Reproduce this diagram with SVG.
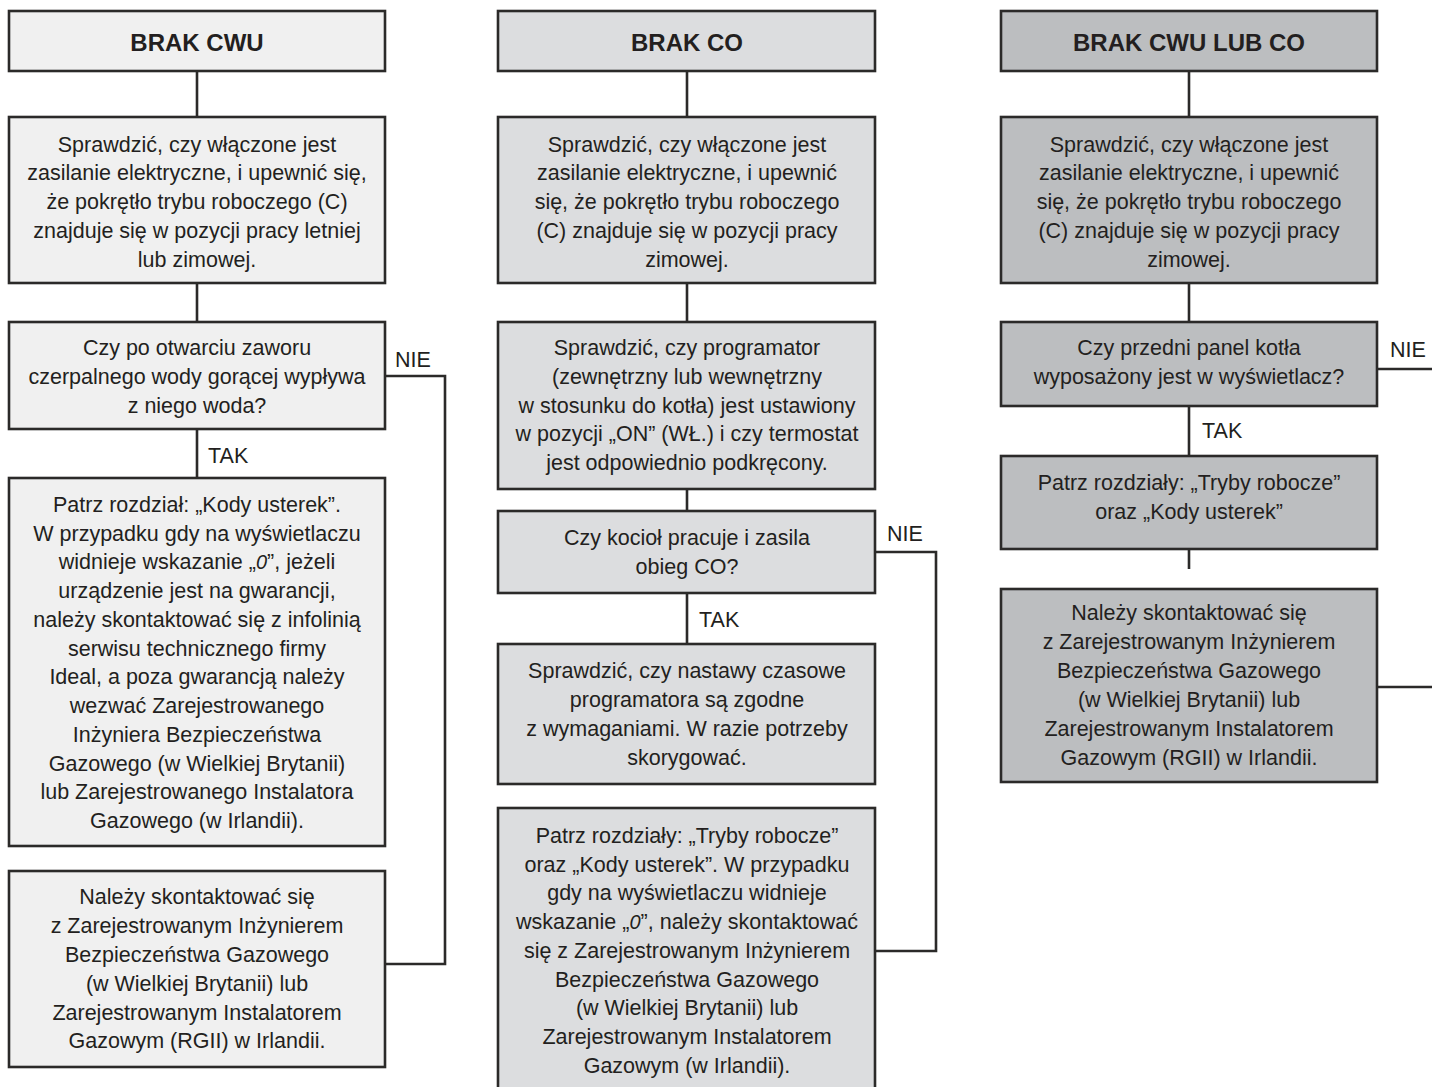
<svg xmlns="http://www.w3.org/2000/svg" width="1432" height="1087" viewBox="0 0 1432 1087">
<style>
.b{stroke:#2b2a29;stroke-width:2.6}
.c1{fill:#f0f0f0}
.c2{fill:#dcdddf}
.c3{fill:#bcbec0}
text{font-family:"Liberation Sans",Arial,sans-serif;font-size:21.5px;fill:#231f20}
.t{text-anchor:middle}
.h{font-weight:bold;font-size:24px}
.seg{font-style:italic;font-family:"Liberation Sans",Arial,sans-serif;font-weight:normal;font-size:20px}
.ln{fill:none;stroke:#2b2a29;stroke-width:2.6}
</style>
<rect width="1432" height="1087" fill="#ffffff"/>
<g id="connectors">
<path class="ln" d="M197 71V117M197 283V322M197 429V478"/>
<path class="ln" d="M385 376H445V964H385"/>
<path class="ln" d="M687 71V117M687 283V322M687 489V511M687 593V644"/>
<path class="ln" d="M875 552H936V951H875"/>
<path class="ln" d="M1189 71V117M1189 283V322M1189 406V456M1189 549V569"/>
<path class="ln" d="M1377 369H1434M1377 687H1434"/>
<text x="208" y="463">TAK</text>
<text x="395" y="367">NIE</text>
<text x="699" y="627">TAK</text>
<text x="887" y="541">NIE</text>
<text x="1202" y="438">TAK</text>
<text x="1390" y="357">NIE</text>
</g>
<g id="n1a"><rect class="b c1" x="9" y="11" width="376" height="60"/><text class="t h" x="197" y="51">BRAK CWU</text></g>
<g id="n1b"><rect class="b c1" x="9" y="117" width="376" height="166"/>
<text class="t" x="197" y="151.5">Sprawdzić, czy włączone jest</text>
<text class="t" x="197" y="180.3">zasilanie elektryczne, i upewnić się,</text>
<text class="t" x="197" y="209.1">że pokrętło trybu roboczego (C)</text>
<text class="t" x="197" y="237.9">znajduje się w pozycji pracy letniej</text>
<text class="t" x="197" y="266.7">lub zimowej.</text></g>
<g id="n1c"><rect class="b c1" x="9" y="322" width="376" height="107"/>
<text class="t" x="197" y="355">Czy po otwarciu zaworu</text>
<text class="t" x="197" y="384">czerpalnego wody gorącej wypływa</text>
<text class="t" x="197" y="412.7">z niego woda?</text></g>
<g id="n1d"><rect class="b c1" x="9" y="478" width="376" height="368"/>
<text class="t" x="197" y="511.7">Patrz rozdział: „Kody usterek”.</text>
<text class="t" x="197" y="540.5">W przypadku gdy na wyświetlaczu</text>
<text class="t" x="197" y="569.2">widnieje wskazanie „<tspan class="seg">0</tspan>”, jeżeli</text>
<text class="t" x="197" y="598">urządzenie jest na gwarancji,</text>
<text class="t" x="197" y="626.7">należy skontaktować się z infolinią</text>
<text class="t" x="197" y="655.5">serwisu technicznego firmy</text>
<text class="t" x="197" y="684.2">Ideal, a poza gwarancją należy</text>
<text class="t" x="197" y="713">wezwać Zarejestrowanego</text>
<text class="t" x="197" y="741.7">Inżyniera Bezpieczeństwa</text>
<text class="t" x="197" y="770.5">Gazowego (w Wielkiej Brytanii)</text>
<text class="t" x="197" y="799.2">lub Zarejestrowanego Instalatora</text>
<text class="t" x="197" y="828">Gazowego (w Irlandii).</text></g>
<g id="n1e"><rect class="b c1" x="9" y="871" width="376" height="196"/>
<text class="t" x="197" y="904">Należy skontaktować się</text>
<text class="t" x="197" y="932.9">z Zarejestrowanym Inżynierem</text>
<text class="t" x="197" y="961.8">Bezpieczeństwa Gazowego</text>
<text class="t" x="197" y="990.6">(w Wielkiej Brytanii) lub</text>
<text class="t" x="197" y="1019.5">Zarejestrowanym Instalatorem</text>
<text class="t" x="197" y="1048.3">Gazowym (RGII) w Irlandii.</text></g>
<g id="n2a"><rect class="b c2" x="498" y="11" width="377" height="60"/><text class="t h" x="687" y="51">BRAK CO</text></g>
<g id="n2b"><rect class="b c2" x="498" y="117" width="377" height="166"/>
<text class="t" x="687" y="151.5">Sprawdzić, czy włączone jest</text>
<text class="t" x="687" y="180.3">zasilanie elektryczne, i upewnić</text>
<text class="t" x="687" y="209.1">się, że pokrętło trybu roboczego</text>
<text class="t" x="687" y="237.9">(C) znajduje się w pozycji pracy</text>
<text class="t" x="687" y="266.7">zimowej.</text></g>
<g id="n2c"><rect class="b c2" x="498" y="322" width="377" height="167"/>
<text class="t" x="687" y="355">Sprawdzić, czy programator</text>
<text class="t" x="687" y="383.8">(zewnętrzny lub wewnętrzny</text>
<text class="t" x="687" y="412.6">w stosunku do kotła) jest ustawiony</text>
<text class="t" x="687" y="441.4">w pozycji „ON” (WŁ.) i czy termostat</text>
<text class="t" x="687" y="470.2">jest odpowiednio podkręcony.</text></g>
<g id="n2d"><rect class="b c2" x="498" y="511" width="377" height="82"/>
<text class="t" x="687" y="545">Czy kocioł pracuje i zasila</text>
<text class="t" x="687" y="573.5">obieg CO?</text></g>
<g id="n2e"><rect class="b c2" x="498" y="644" width="377" height="140"/>
<text class="t" x="687" y="678.3">Sprawdzić, czy nastawy czasowe</text>
<text class="t" x="687" y="707.2">programatora są zgodne</text>
<text class="t" x="687" y="736">z wymaganiami. W razie potrzeby</text>
<text class="t" x="687" y="765">skorygować.</text></g>
<g id="n2f"><rect class="b c2" x="498" y="808" width="377" height="290"/>
<text class="t" x="687" y="842.7">Patrz rozdziały: „Tryby robocze”</text>
<text class="t" x="687" y="871.5">oraz „Kody usterek”. W przypadku</text>
<text class="t" x="687" y="900.2">gdy na wyświetlaczu widnieje</text>
<text class="t" x="687" y="929">wskazanie „<tspan class="seg">0</tspan>”, należy skontaktować</text>
<text class="t" x="687" y="957.7">się z Zarejestrowanym Inżynierem</text>
<text class="t" x="687" y="986.5">Bezpieczeństwa Gazowego</text>
<text class="t" x="687" y="1015.2">(w Wielkiej Brytanii) lub</text>
<text class="t" x="687" y="1044">Zarejestrowanym Instalatorem</text>
<text class="t" x="687" y="1072.7">Gazowym (w Irlandii).</text></g>
<g id="n3a"><rect class="b c3" x="1001" y="11" width="376" height="60"/><text class="t h" x="1189" y="51">BRAK CWU LUB CO</text></g>
<g id="n3b"><rect class="b c3" x="1001" y="117" width="376" height="166"/>
<text class="t" x="1189" y="151.5">Sprawdzić, czy włączone jest</text>
<text class="t" x="1189" y="180.3">zasilanie elektryczne, i upewnić</text>
<text class="t" x="1189" y="209.1">się, że pokrętło trybu roboczego</text>
<text class="t" x="1189" y="237.9">(C) znajduje się w pozycji pracy</text>
<text class="t" x="1189" y="266.7">zimowej.</text></g>
<g id="n3c"><rect class="b c3" x="1001" y="322" width="376" height="84"/>
<text class="t" x="1189" y="355">Czy przedni panel kotła</text>
<text class="t" x="1189" y="383.5">wyposażony jest w wyświetlacz?</text></g>
<g id="n3d"><rect class="b c3" x="1001" y="456" width="376" height="93"/>
<text class="t" x="1189" y="490">Patrz rozdziały: „Tryby robocze”</text>
<text class="t" x="1189" y="519">oraz „Kody usterek”</text></g>
<g id="n3e"><rect class="b c3" x="1001" y="589" width="376" height="193"/>
<text class="t" x="1189" y="620">Należy skontaktować się</text>
<text class="t" x="1189" y="649">z Zarejestrowanym Inżynierem</text>
<text class="t" x="1189" y="678">Bezpieczeństwa Gazowego</text>
<text class="t" x="1189" y="707">(w Wielkiej Brytanii) lub</text>
<text class="t" x="1189" y="736">Zarejestrowanym Instalatorem</text>
<text class="t" x="1189" y="765">Gazowym (RGII) w Irlandii.</text></g>
</svg>
